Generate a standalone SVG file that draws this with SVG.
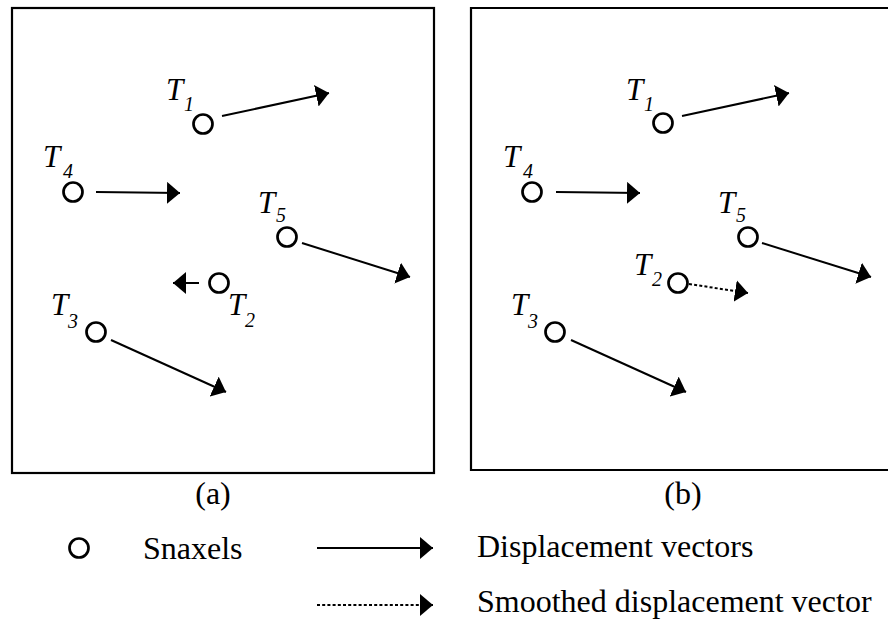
<svg xmlns="http://www.w3.org/2000/svg" width="888" height="621" viewBox="0 0 888 621">
<style>
.frame{fill:none;stroke:#000;stroke-width:2.2}
.snax{fill:#fff;stroke:#000;stroke-width:2.7}
.vec{stroke:#000;stroke-width:2;fill:none;marker-end:url(#ah)}
.dot{stroke-dasharray:3 2.2}
.T{font-family:"Liberation Serif","Times New Roman",serif;font-style:italic;font-size:31px;fill:#000}
.sub{font-family:"Liberation Serif","Times New Roman",serif;font-style:italic;font-size:20px;fill:#000}
.lbl{font-family:"Liberation Serif","Times New Roman",serif;font-size:32px;fill:#000}
</style>
<defs>
<marker id="ah" markerUnits="userSpaceOnUse" viewBox="0 -11 13 22" markerWidth="13" markerHeight="22" refX="13" refY="0" orient="auto">
<path d="M0,-11 L13,0 L0,11 Z" fill="#000"/>
</marker>
</defs>
<rect class="frame" x="12" y="8" width="422" height="465"/>
<path class="frame" d="M895,8 H471 V470 H895"/>
<g id="connectors">
<line class="vec" x1="222" y1="116" x2="329" y2="93"/>
<line class="vec" x1="96" y1="192" x2="180" y2="193"/>
<line class="vec" x1="302" y1="243" x2="410" y2="277"/>
<line class="vec" x1="199" y1="283" x2="173" y2="283"/>
<line class="vec" x1="111" y1="340" x2="226" y2="392"/>
<line class="vec" x1="682" y1="116" x2="789" y2="93"/>
<line class="vec" x1="556" y1="192" x2="640" y2="193"/>
<line class="vec" x1="762" y1="243" x2="871" y2="277"/>
<line class="vec dot" x1="689" y1="284" x2="748" y2="293"/>
<line class="vec" x1="571" y1="340" x2="686" y2="392"/>
<line class="vec" x1="317" y1="548" x2="433" y2="548"/>
<line class="vec dot" x1="317" y1="605" x2="433" y2="605"/>
</g>
<g id="a-T1"><circle class="snax" cx="203" cy="124" r="9.5"/><text class="T" x="166" y="100">T</text><text class="sub" x="184" y="111">1</text></g>
<g id="a-T4"><circle class="snax" cx="73" cy="192" r="9.5"/><text class="T" x="43" y="167">T</text><text class="sub" x="63" y="178">4</text></g>
<g id="a-T5"><circle class="snax" cx="287" cy="237" r="9.5"/><text class="T" x="258" y="213">T</text><text class="sub" x="276" y="222">5</text></g>
<g id="a-T2"><circle class="snax" cx="219" cy="283" r="9.5"/><text class="T" x="228" y="315">T</text><text class="sub" x="245" y="327">2</text></g>
<g id="a-T3"><circle class="snax" cx="96" cy="332" r="9.5"/><text class="T" x="51" y="315">T</text><text class="sub" x="68" y="328">3</text></g>
<g id="b-T1"><circle class="snax" cx="663" cy="123" r="9.5"/><text class="T" x="626" y="100">T</text><text class="sub" x="644" y="111">1</text></g>
<g id="b-T4"><circle class="snax" cx="532" cy="192" r="9.5"/><text class="T" x="503" y="167">T</text><text class="sub" x="523" y="178">4</text></g>
<g id="b-T5"><circle class="snax" cx="748" cy="237" r="9.5"/><text class="T" x="718" y="213">T</text><text class="sub" x="736" y="222">5</text></g>
<g id="b-T2"><circle class="snax" cx="678" cy="283" r="9.5"/><text class="T" x="634" y="275">T</text><text class="sub" x="652" y="286">2</text></g>
<g id="b-T3"><circle class="snax" cx="555" cy="332" r="9.5"/><text class="T" x="511" y="315">T</text><text class="sub" x="528" y="328">3</text></g>
<text class="lbl" x="213" y="504" text-anchor="middle">(a)</text>
<text class="lbl" x="683" y="504" text-anchor="middle">(b)</text>
<g id="legend">
<circle class="snax" cx="79" cy="548" r="9.5"/>
<text class="lbl" x="143" y="559">Snaxels</text>
<text class="lbl" x="477" y="557">Displacement vectors</text>
<text class="lbl" x="477" y="612">Smoothed displacement vector</text>
</g>
</svg>
